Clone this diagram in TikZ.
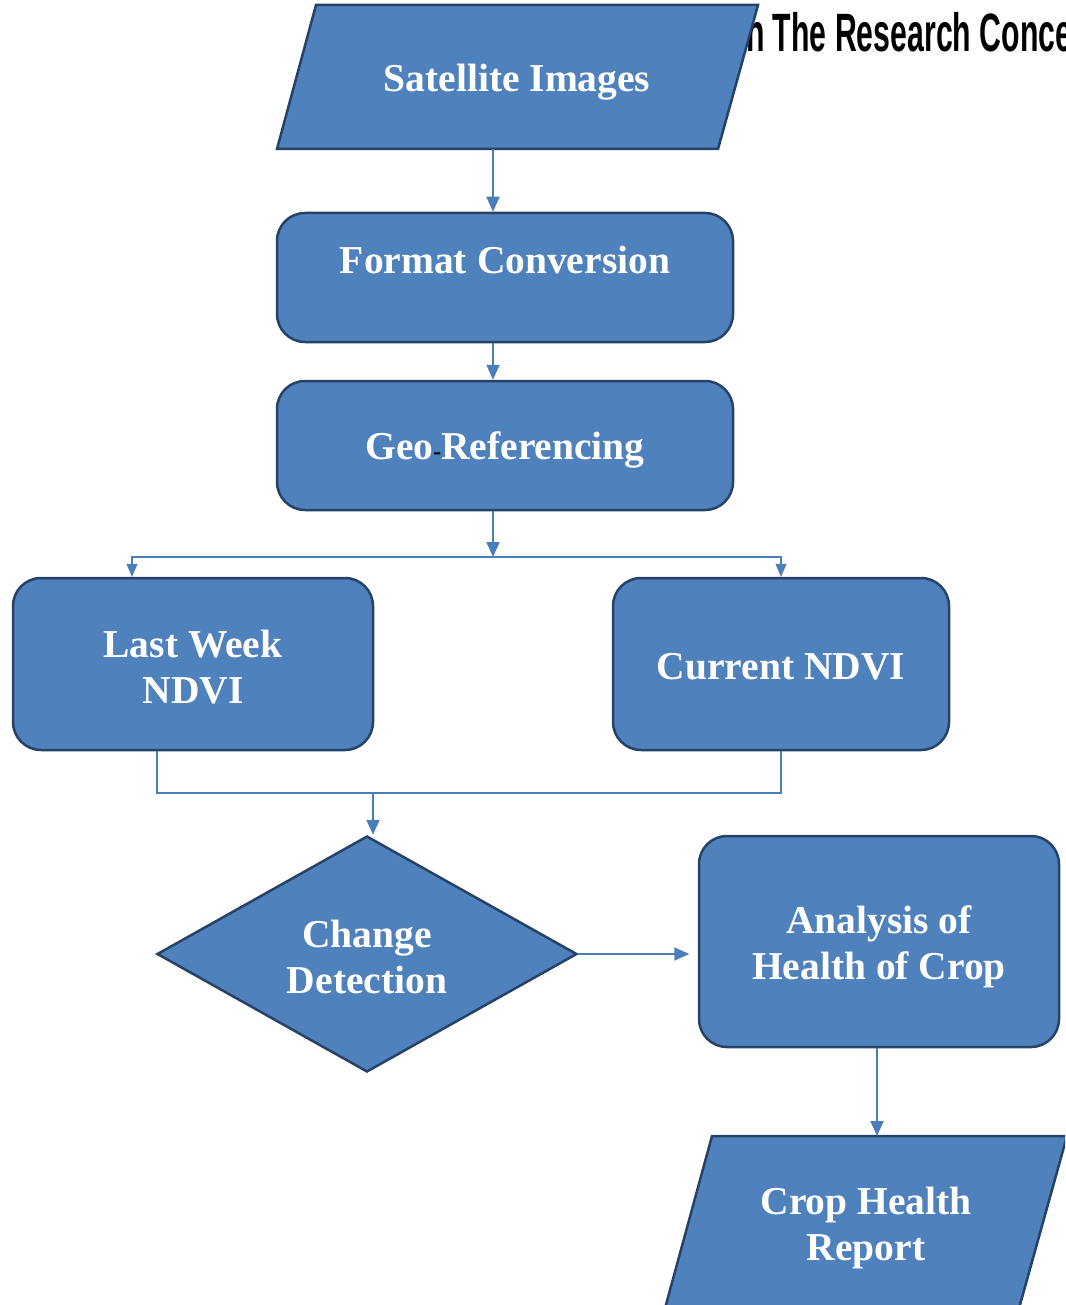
\documentclass[tikz,border=0pt]{standalone}
\usepackage{fontspec}
\setmainfont{Liberation Serif}
\newfontfamily\headfont{Liberation Sans}
\usetikzlibrary{shapes.geometric,arrows.meta,calc}
\definecolor{boxblue}{RGB}{79,129,189}
\definecolor{boxline}{RGB}{38,66,102}
\definecolor{linkblue}{RGB}{74,126,187}
\tikzset{
  boxtext/.style={text=white, font=\bfseries\fontsize{39.5}{46.5}\selectfont, align=center},
  proc/.style={draw=boxline, fill=boxblue, line width=2.5pt,
               rounded corners=28pt, inner sep=0pt},
  io/.style={draw=boxline, fill=boxblue, line width=2.5pt, line join=miter},
  decide/.style={diamond, draw=boxline, fill=boxblue, line width=2.5pt, inner sep=0pt},
  arr/.style={draw=linkblue, line width=2pt, -{Triangle[width=13pt,length=15pt]}},
  thinarr/.style={draw=linkblue, line width=1.2pt, -{Triangle[width=11pt,length=13pt]}},
  thinline/.style={draw=linkblue, line width=1.2pt}
}
\begin{document}
\begin{tikzpicture}[x=1pt,y=-1pt]
  \useasboundingbox (0,0) rectangle (1065,1305);
  \clip (0,0) rectangle (1065,1305);
  % page header behind the chart
  \node[anchor=base west, inner sep=0pt, xscale=0.56,
        font=\headfont\bfseries\fontsize{54}{60}\selectfont] (head) at (746,52) {n The Research Conce};
  % input / output blocks
  \path[io] (316,5) -- (758,5) -- (718,149) -- (277,149) -- cycle;
  \coordinate (satbot) at (493,149);
  \node[boxtext] (sat) at (517,82) {Satellite Images};
  \path[io] (712,1136) -- (1067,1136) -- (1018,1312) -- (664,1312) -- cycle;
  \coordinate (reptop) at (877,1136);
  \node[boxtext] (rep) at (866,1228) {Crop Health\\Report};
  % process boxes
  \node[proc, minimum width=456pt, minimum height=129pt] (fmt) at (505,277.5) {};
  \node[boxtext] (fmtlab) at (505,260) {Format Conversion};
  \node[proc, minimum width=456pt, minimum height=129pt] (geo) at (505,445.5) {};
  \node[boxtext] (geolab) at (505,450)
    {Geo{\color{black}\fontsize{24}{24}\selectfont-}Referencing};
  \node[proc, minimum width=360pt, minimum height=172pt] (last) at (193,664) {};
  \node[boxtext] (lastlab) at (193,667) {Last Week\\NDVI};
  \node[proc, minimum width=336pt, minimum height=172pt] (cur) at (781,664) {};
  \node[boxtext] (curlab) at (781,667) {Current NDVI};
  \node[decide, minimum width=420pt, minimum height=236pt] (chg) at (367,954) {};
  \node[boxtext] (chglab) at (367,957) {Change\\Detection};
  \node[proc, minimum width=360pt, minimum height=211pt] (ana) at (879,941.5) {};
  \node[boxtext] (analab) at (879,947) {Analysis of\\Health of Crop};
  % connectors
  \draw[arr] (satbot) -- (satbot |- fmt.north);
  \draw[arr] ([xshift=-12pt]fmt.south) -- ([xshift=-12pt]geo.north);
  \coordinate (split) at (493,557);
  \draw[arr] ([xshift=-12pt]geo.south) -- (split);
  \draw[thinarr] (split) -| ([xshift=-61pt]last.north);
  \draw[thinarr] (split) -| (cur.north);
  \coordinate (merge) at (373,793);
  \draw[thinline] ([xshift=-36pt]last.south) |- (merge);
  \draw[thinline] (cur.south) |- (merge);
  \draw[arr] (merge) -- (merge |- chg.north);
  \draw[arr] (chg.east) -- ++(111,0);
  \draw[arr] (reptop |- ana.south) -- (reptop);
\end{tikzpicture}
\end{document}
